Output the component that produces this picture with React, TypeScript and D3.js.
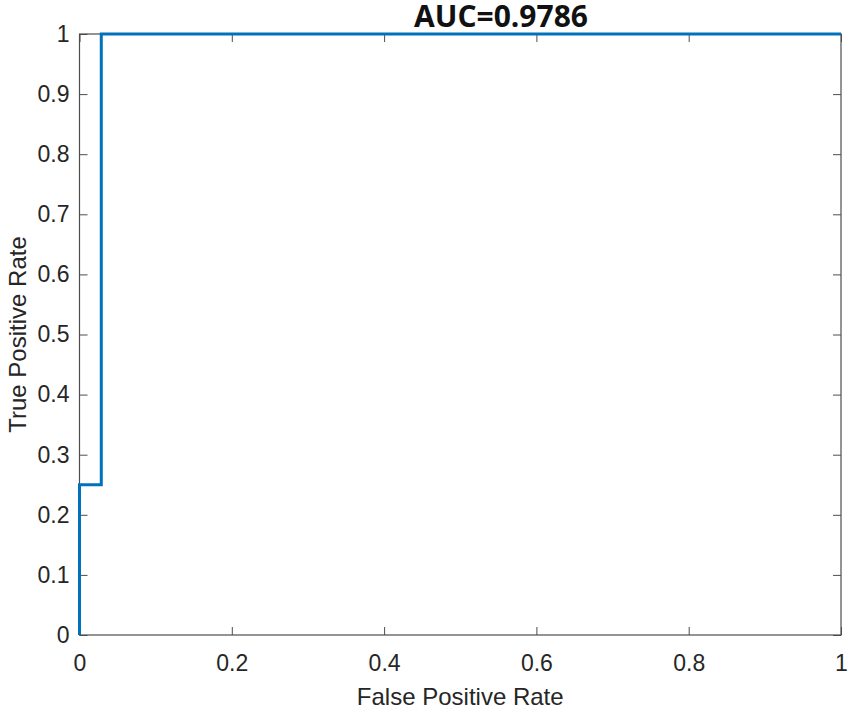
import React, { useRef, useEffect } from 'react';
import * as d3 from 'd3';

// ROC curve points (false positive rate, true positive rate)
const fpr = [0, 0, 0.0286, 0.0286, 1];
const tpr = [0, 0.25, 0.25, 1, 1];
const xTicks = [0, 0.2, 0.4, 0.6, 0.8, 1];
const yTicks = [0, 0.1, 0.2, 0.3, 0.4, 0.5, 0.6, 0.7, 0.8, 0.9, 1];
const titleText = 'AUC=0.9786';
const xLabel = 'False Positive Rate';
const yLabel = 'True Positive Rate';

const App = () => {
    const ref = useRef<SVGSVGElement>(null);

    useEffect(() => {
        const svgEl = d3.select(ref.current);
        svgEl.selectAll('*').remove();

        const W = 850, H = 712;
        const margin = { top: 34, right: 9, bottom: 77, left: 79.5 };
        const width = W - margin.left - margin.right;
        const height = H - margin.top - margin.bottom;
        const axisColor = '#4d4d4d';
        const font = '"Liberation Sans", Arial, sans-serif';

        svgEl.attr('width', W).attr('height', H);
        svgEl.append('rect').attr('width', W).attr('height', H).attr('fill', '#fff');

        const g = svgEl.append('g').attr('transform', `translate(${margin.left}, ${margin.top})`);

        const x = d3.scaleLinear().domain([0, 1]).range([0, width]);
        const y = d3.scaleLinear().domain([0, 1]).range([height, 0]);

        // box + ticks on all sides (inward)
        const tickLen = 8;
        const styleAxis = (sel: any) => {
            sel.select('.domain').remove();
            sel.selectAll('.tick line').attr('stroke', axisColor).attr('stroke-width', 1);
            sel.selectAll('.tick text').attr('fill', '#262626').style('font-family', font).style('font-size', '23px');
        };

        const bottom = g.append('g')
            .attr('transform', `translate(0, ${height})`)
            .call(d3.axisBottom(x).tickValues(xTicks).tickFormat(d3.format('~g')).tickSizeInner(-tickLen).tickSizeOuter(0).tickPadding(20));
        styleAxis(bottom);

        const top = g.append('g')
            .call(d3.axisTop(x).tickValues(xTicks).tickFormat(() => '').tickSizeInner(-tickLen).tickSizeOuter(0));
        styleAxis(top);

        const left = g.append('g')
            .call(d3.axisLeft(y).tickValues(yTicks).tickFormat(d3.format('~g')).tickSizeInner(-tickLen).tickSizeOuter(0).tickPadding(10));
        styleAxis(left);

        const right = g.append('g')
            .attr('transform', `translate(${width}, 0)`)
            .call(d3.axisRight(y).tickValues(yTicks).tickFormat(() => '').tickSizeInner(-tickLen).tickSizeOuter(0));
        styleAxis(right);

        g.append('rect')
            .attr('width', width)
            .attr('height', height)
            .attr('fill', 'none')
            .attr('stroke', axisColor)
            .attr('stroke-width', 1.2);

        const pts = fpr.map((v, i) => [v, tpr[i]] as [number, number]);
        const line = d3.line<[number, number]>().x(d => x(d[0])).y(d => y(d[1]));

        g.append('path')
            .datum(pts)
            .attr('fill', 'none')
            .attr('stroke', '#0072BD')
            .attr('stroke-width', 3)
            .attr('d', line);

        svgEl.append('text')
            .attr('x', 501)
            .attr('y', 27)
            .attr('text-anchor', 'middle')
            .style('font-family', '"Open Sans", "Noto Sans", sans-serif')
            .style('font-weight', 'bold')
            .style('font-size', '30px')
            .attr('fill', '#111')
            .text(titleText);

        svgEl.append('text')
            .attr('x', margin.left + width / 2)
            .attr('y', 705)
            .attr('text-anchor', 'middle')
            .style('font-family', font)
            .style('font-size', '24px')
            .attr('fill', '#262626')
            .text(xLabel);

        svgEl.append('text')
            .attr('transform', `translate(26, ${margin.top + height / 2}) rotate(-90)`)
            .attr('text-anchor', 'middle')
            .style('font-family', font)
            .style('font-size', '24px')
            .attr('fill', '#262626')
            .text(yLabel);
    }, []);

    return (
        <div style={{ position: 'absolute', left: 0, top: 0 }}>
            <svg ref={ref} style={{ display: 'block' }} />
        </div>
    );
};

export default App;
